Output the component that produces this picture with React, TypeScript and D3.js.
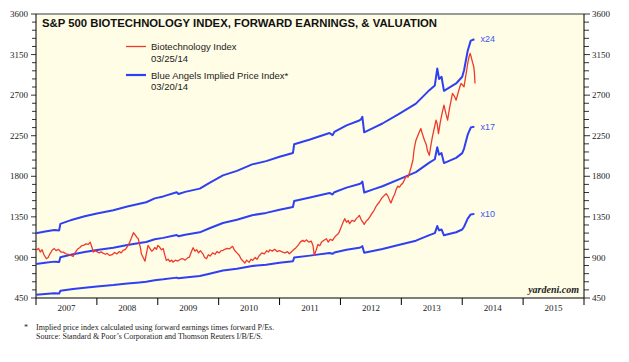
import React, { useEffect, useRef } from 'react';
import * as d3 from 'd3';

const fwdEarnings: [number, number][] = [
  [2007.0, 48.7], [2007.15, 49.5], [2007.3, 50.2], [2007.38, 50.0], [2007.4, 53.0],
  [2007.55, 54.5], [2007.61, 55.0], [2007.8, 56.5], [2008.0, 57.8], [2008.27, 59.3],
  [2008.5, 61.0], [2008.7, 62.3], [2008.81, 63.0], [2008.95, 64.8], [2009.09, 65.7],
  [2009.31, 67.6], [2009.34, 66.8], [2009.45, 67.8], [2009.69, 69.3], [2009.85, 72.0],
  [2010.07, 75.4], [2010.3, 77.5], [2010.55, 80.5], [2010.78, 82.0], [2011.0, 84.0],
  [2011.22, 85.8], [2011.24, 89.8], [2011.5, 92.0], [2011.82, 95.0], [2011.87, 94.0],
  [2011.9, 95.5], [2012.1, 98.5], [2012.31, 100.8], [2012.34, 101.4], [2012.36, 102.5],
  [2012.39, 95.3], [2012.55, 97.5], [2012.69, 99.4], [2012.97, 104.0], [2013.24, 108.6],
  [2013.46, 114.8], [2013.55, 117.0], [2013.59, 124.8], [2013.62, 120.0], [2013.66, 121.0],
  [2013.7, 114.5], [2013.9, 117.9], [2014.0, 121.0], [2014.03, 124.0], [2014.09, 133.0],
  [2014.14, 137.7], [2014.2, 138.3],
];

const multiples = [24, 17, 10];

// S&P 500 biotechnology index (decimal year, index level)
const biotech: [number, number][] = [
  [2007.0, 978], [2007.04, 1000], [2007.07, 960], [2007.1, 985], [2007.13, 930], [2007.17, 886],
  [2007.2, 900], [2007.23, 940], [2007.27, 985], [2007.3, 997], [2007.33, 975], [2007.37, 990],
  [2007.41, 960], [2007.45, 959], [2007.49, 940], [2007.53, 935], [2007.57, 925], [2007.61, 911],
  [2007.64, 950], [2007.68, 990], [2007.72, 1010], [2007.75, 1030], [2007.78, 1033], [2007.82, 1050],
  [2007.86, 1045], [2007.89, 1070], [2007.92, 1010], [2007.94, 959], [2007.97, 975], [2008.0, 965],
  [2008.04, 950], [2008.07, 962], [2008.1, 948], [2008.14, 935], [2008.17, 945], [2008.21, 922],
  [2008.25, 930], [2008.29, 955], [2008.33, 940], [2008.37, 965], [2008.4, 950], [2008.43, 978],
  [2008.47, 990], [2008.51, 1030], [2008.54, 1070], [2008.57, 1120], [2008.6, 1174], [2008.63, 1150],
  [2008.66, 1120], [2008.68, 1107], [2008.7, 1050], [2008.72, 990], [2008.73, 941], [2008.76, 900],
  [2008.79, 859], [2008.81, 930], [2008.84, 1033], [2008.87, 1000], [2008.9, 970], [2008.92, 978],
  [2008.95, 1010], [2008.98, 990], [2009.0, 1033], [2009.03, 1015], [2009.06, 985], [2009.09, 997],
  [2009.11, 940], [2009.14, 867], [2009.17, 880], [2009.2, 855], [2009.23, 870], [2009.25, 848],
  [2009.29, 870], [2009.33, 860], [2009.37, 880], [2009.41, 886], [2009.45, 870], [2009.49, 895],
  [2009.52, 904], [2009.55, 960], [2009.58, 1008], [2009.61, 970], [2009.64, 985], [2009.67, 950],
  [2009.7, 975], [2009.74, 940], [2009.77, 900], [2009.8, 886], [2009.83, 930], [2009.86, 915],
  [2009.9, 950], [2009.94, 935], [2009.97, 965], [2010.01, 950], [2010.04, 975], [2010.07, 978],
  [2010.1, 990], [2010.14, 1000], [2010.18, 995], [2010.21, 1015], [2010.23, 1022], [2010.26, 980],
  [2010.3, 950], [2010.34, 922], [2010.37, 880], [2010.4, 860], [2010.43, 837], [2010.46, 870],
  [2010.5, 845], [2010.53, 880], [2010.56, 867], [2010.6, 900], [2010.63, 880], [2010.67, 922],
  [2010.71, 950], [2010.75, 940], [2010.79, 975], [2010.82, 960], [2010.84, 985], [2010.88, 970],
  [2010.92, 990], [2010.96, 965], [2011.0, 975], [2011.05, 959], [2011.09, 950], [2011.13, 965],
  [2011.16, 941], [2011.2, 965], [2011.24, 990], [2011.27, 1008], [2011.31, 1040], [2011.34, 1070],
  [2011.38, 1089], [2011.41, 1075], [2011.44, 1095], [2011.48, 1070], [2011.52, 1081], [2011.55, 1030],
  [2011.57, 922], [2011.6, 980], [2011.63, 1044], [2011.66, 1030], [2011.69, 1070], [2011.73, 1090],
  [2011.77, 1107], [2011.8, 1070], [2011.83, 1100], [2011.87, 1089], [2011.9, 1120], [2011.93, 1144],
  [2011.96, 1160], [2011.98, 1181], [2012.02, 1250], [2012.05, 1300], [2012.07, 1330], [2012.1, 1290],
  [2012.13, 1310], [2012.15, 1274], [2012.19, 1310], [2012.23, 1300], [2012.26, 1330], [2012.29, 1350],
  [2012.31, 1367], [2012.34, 1320], [2012.37, 1290], [2012.39, 1267], [2012.42, 1300], [2012.45, 1320],
  [2012.48, 1348], [2012.51, 1380], [2012.55, 1420], [2012.58, 1460], [2012.61, 1490], [2012.64, 1515],
  [2012.68, 1560], [2012.71, 1580], [2012.75, 1607], [2012.78, 1580], [2012.81, 1530], [2012.83, 1504],
  [2012.86, 1560], [2012.89, 1600], [2012.91, 1644], [2012.94, 1690], [2012.97, 1680], [2013.0, 1710],
  [2013.02, 1719], [2013.05, 1760], [2013.08, 1800], [2013.11, 1790], [2013.13, 1830], [2013.16, 1900],
  [2013.19, 1978], [2013.21, 2100], [2013.24, 2200], [2013.27, 2250], [2013.3, 2300], [2013.32, 2330],
  [2013.35, 2260], [2013.38, 2200], [2013.41, 2150], [2013.43, 2080], [2013.46, 2033], [2013.48, 2120],
  [2013.51, 2237], [2013.54, 2330], [2013.57, 2422], [2013.59, 2380], [2013.61, 2274], [2013.64, 2400],
  [2013.67, 2500], [2013.7, 2589], [2013.73, 2500], [2013.76, 2422], [2013.79, 2550], [2013.82, 2650],
  [2013.84, 2719], [2013.87, 2690], [2013.9, 2644], [2013.93, 2720], [2013.96, 2790], [2013.98, 2830],
  [2014.01, 2810], [2014.03, 2793], [2014.05, 2880], [2014.07, 2960], [2014.09, 3052], [2014.11, 3120],
  [2014.13, 3163], [2014.145, 3130], [2014.16, 3089], [2014.175, 3050], [2014.19, 3015], [2014.2, 2950],
  [2014.21, 2830],
];

const years = [2007, 2008, 2009, 2010, 2011, 2012, 2013, 2014, 2015];
const yTicks = [450, 900, 1350, 1800, 2250, 2700, 3150, 3600];
const yMinor = d3.range(450, 3600, 90);

const RED = '#ee3a2a';
const BLUE = '#2f3ff2';
const SANS = 'Liberation Sans, Arial, sans-serif';
const SERIF = 'Liberation Serif, Times New Roman, serif';

export default function App() {
  const svgRef = useRef<SVGSVGElement>(null);

  useEffect(() => {
    if (!svgRef.current) return;
    const svg = d3.select(svgRef.current);
    svg.selectAll('*').remove();

    const left = 36, right = 584, top = 14, bottom = 298;
    const x = d3.scaleLinear().domain([2007, 2016]).range([left, right]);
    const y = d3.scaleLinear().domain([450, 3600]).range([bottom, top]);

    svg.append('rect')
      .attr('x', left).attr('y', top)
      .attr('width', right - left).attr('height', bottom - top)
      .attr('fill', '#fffde6');

    // frame
    svg.append('line')
      .attr('x1', left).attr('x2', right).attr('y1', top).attr('y2', top)
      .attr('stroke', '#7a7a7a').attr('stroke-width', 1.5);
    [left, right].forEach(px => {
      svg.append('line')
        .attr('x1', px).attr('x2', px).attr('y1', top).attr('y2', bottom)
        .attr('stroke', '#000').attr('stroke-width', 1);
    });
    svg.append('line')
      .attr('x1', left).attr('x2', right).attr('y1', bottom).attr('y2', bottom)
      .attr('stroke', '#000').attr('stroke-width', 1.2);

    // y ticks both sides
    yMinor.concat([3600]).forEach(v => {
      const major = yTicks.includes(v);
      const len = major ? 5 : 4;
      svg.append('line')
        .attr('x1', left - len).attr('x2', left).attr('y1', y(v)).attr('y2', y(v))
        .attr('stroke', '#000').attr('stroke-width', 0.8);
      svg.append('line')
        .attr('x1', right).attr('x2', right + len + 1).attr('y1', y(v)).attr('y2', y(v))
        .attr('stroke', '#000').attr('stroke-width', 0.8);
    });
    yTicks.forEach(v => {
      svg.append('text')
        .attr('x', 28).attr('y', y(v)).attr('dy', '0.35em')
        .attr('text-anchor', 'end')
        .style('font-family', SERIF).style('font-size', '9px').attr('fill', '#222')
        .text(v);
      svg.append('text')
        .attr('x', 592).attr('y', y(v)).attr('dy', '0.35em')
        .style('font-family', SERIF).style('font-size', '9px').attr('fill', '#222')
        .text(v);
    });

    // x ticks
    years.concat([2016]).forEach(yr => {
      svg.append('line')
        .attr('x1', x(yr)).attr('x2', x(yr)).attr('y1', bottom).attr('y2', bottom + 7)
        .attr('stroke', '#000').attr('stroke-width', 1);
    });
    years.forEach(yr => {
      svg.append('text')
        .attr('x', x(yr + 0.5)).attr('y', 311)
        .attr('text-anchor', 'middle')
        .style('font-family', SERIF).style('font-size', '9px').attr('fill', '#222')
        .text(yr);
    });

    // blue implied price lines
    const last = fwdEarnings[fwdEarnings.length - 1];
    multiples.forEach(m => {
      const line = d3.line<[number, number]>()
        .x(d => x(d[0]))
        .y(d => y(d[1] * m));
      svg.append('path')
        .datum(fwdEarnings)
        .attr('d', line)
        .attr('fill', 'none')
        .attr('stroke', BLUE)
        .attr('stroke-width', 2)
        .attr('stroke-linejoin', 'round');
      svg.append('text')
        .attr('x', x(last[0]) + 6).attr('y', y(last[1] * m)).attr('dy', '0.35em')
        .style('font-family', SANS).style('font-size', '9px').attr('fill', '#4454f0')
        .text(`x${m}`);
    });

    // red biotech index
    const redLine = d3.line<[number, number]>()
      .x(d => x(d[0]))
      .y(d => y(d[1]));
    svg.append('path')
      .datum(biotech)
      .attr('d', redLine)
      .attr('fill', 'none')
      .attr('stroke', RED)
      .attr('stroke-width', 1.3)
      .attr('stroke-linejoin', 'round');

    // title
    svg.append('text')
      .attr('x', 42).attr('y', 27)
      .attr('textLength', 395).attr('lengthAdjust', 'spacingAndGlyphs')
      .style('font-family', SANS).style('font-size', '11.5px').style('font-weight', 'bold')
      .attr('fill', '#111')
      .text('S&P 500 BIOTECHNOLOGY INDEX, FORWARD EARNINGS, & VALUATION');

    // legend
    const legend = [
      { color: RED, width: 1.3, ly: 46.5, name: 'Biotechnology Index', date: '03/25/14' },
      { color: BLUE, width: 2.2, ly: 75, name: 'Blue Angels Implied Price Index*', date: '03/20/14' },
    ];
    legend.forEach(l => {
      svg.append('line')
        .attr('x1', 126).attr('x2', 146).attr('y1', l.ly).attr('y2', l.ly)
        .attr('stroke', l.color).attr('stroke-width', l.width);
      svg.append('text')
        .attr('x', 151).attr('y', l.ly + 3.5)
        .style('font-family', SANS).style('font-size', '9.5px').attr('fill', '#222')
        .text(l.name);
      svg.append('text')
        .attr('x', 151).attr('y', l.ly + 15)
        .style('font-family', SANS).style('font-size', '9.5px').attr('fill', '#222')
        .text(l.date);
    });

    svg.append('text')
      .attr('x', 579).attr('y', 293)
      .attr('text-anchor', 'end')
      .style('font-family', SERIF).style('font-size', '10px')
      .style('font-style', 'italic').style('font-weight', 'bold')
      .attr('fill', '#222')
      .text('yardeni.com');

    // footnotes
    svg.append('text')
      .attr('x', 24).attr('y', 330)
      .style('font-family', SERIF).style('font-size', '8px').attr('fill', '#222')
      .text('*');
    svg.append('text')
      .attr('x', 36).attr('y', 330)
      .style('font-family', SERIF).style('font-size', '8px').attr('fill', '#222')
      .text('Implied price index calculated using forward earnings times forward P/Es.');
    svg.append('text')
      .attr('x', 36).attr('y', 339)
      .style('font-family', SERIF).style('font-size', '8px').attr('fill', '#222')
      .text('Source: Standard & Poor\u2019s Corporation and Thomson Reuters I/B/E/S.');
  }, []);

  return (
    <svg
      ref={svgRef}
      width={629}
      height={362}
      style={{ position: 'absolute', left: 0, top: 0, background: '#fff', display: 'block' }}
    />
  );
}
